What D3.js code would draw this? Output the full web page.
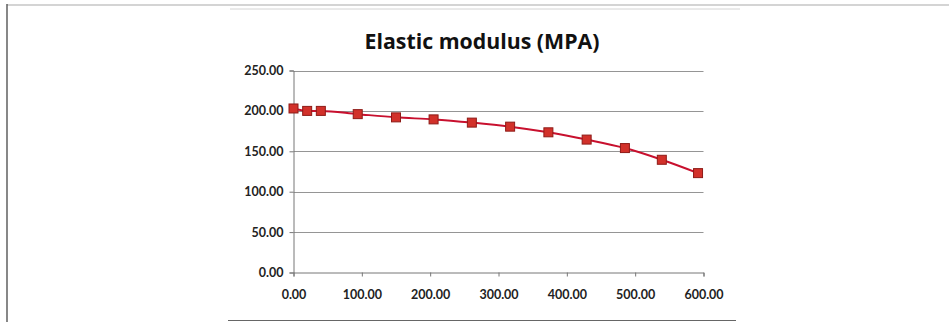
<!DOCTYPE html>
<html><head><meta charset="utf-8">
<script src="https://cdn.jsdelivr.net/npm/d3@7/dist/d3.min.js"></script>
<style>
html,body{margin:0;padding:0;background:#fff;}
svg{display:block;}
</style></head>
<body>
<svg id="c" width="949" height="322"></svg>
<script>
const title = "Elastic modulus (MPA)";
const temperature = [0, 20, 40, 94, 150, 205, 261, 317, 373, 429, 485, 539, 592];
const modulus = [203, 200, 200, 196, 192, 189.5, 185.5, 180.5, 173.5, 164.5, 154, 139.5, 123];
const xTicks = [0, 100, 200, 300, 400, 500, 600];
const yTicks = [0, 50, 100, 150, 200, 250];

const svg = d3.select("#c");
const font = "Lato, 'Open Sans', sans-serif";

// frame remnants
svg.append("line").attr("x1",7).attr("x2",949).attr("y1",5).attr("y2",5).attr("stroke","#aaa").attr("stroke-width",1.2);
svg.append("line").attr("x1",230).attr("x2",740).attr("y1",9).attr("y2",9).attr("stroke","#d4d4d4").attr("stroke-width",1);
svg.append("line").attr("x1",7).attr("x2",7).attr("y1",4).attr("y2",322).attr("stroke","#555").attr("stroke-width",1.4);
svg.append("line").attr("x1",228).attr("x2",736).attr("y1",320.5).attr("y2",320.5).attr("stroke","#666").attr("stroke-width",1);

const x = d3.scaleLinear().domain([0,600]).range([293.5,703.5]);
const y = d3.scaleLinear().domain([0,250]).range([272.5,70.5]);

// title
svg.append("text").attr("x",482).attr("y",49).attr("text-anchor","middle")
  .attr("font-family","'Open Sans', Lato, sans-serif").attr("font-weight","bold").attr("font-size",21)
  .attr("textLength",235).attr("lengthAdjust","spacingAndGlyphs").attr("fill","#111")
  .text(title);

// gridlines
svg.append("g").selectAll("line").data(yTicks.filter(d=>d>0)).join("line")
  .attr("x1",x(0)).attr("x2",x(600)).attr("y1",d=>Math.round(y(d))+0.5).attr("y2",d=>Math.round(y(d))+0.5)
  .attr("stroke","#959595").attr("stroke-width",1);

// y axis
const yAxis = d3.axisLeft(y).tickValues(yTicks).tickFormat(d3.format(".2f")).tickSize(4).tickPadding(6);
const gy = svg.append("g").attr("transform",`translate(${x(0)},0)`).call(yAxis);
gy.select(".domain").attr("stroke","#777");
gy.selectAll(".tick line").attr("stroke","#777");
gy.selectAll("text").attr("font-family",font).attr("font-size",12.5).attr("fill","#222").attr("font-weight","bold");

// x axis
const xAxis = d3.axisBottom(x).tickValues(xTicks).tickFormat(d3.format(".2f")).tickSize(4).tickPadding(14);
const gx = svg.append("g").attr("transform",`translate(0,${y(0)})`).call(xAxis);
gx.select(".domain").attr("stroke","#777");
gx.selectAll(".tick line").attr("stroke","#777");
gx.selectAll("text").attr("font-family",font).attr("font-size",12.5).attr("fill","#222").attr("font-weight","bold");

// line
const data = temperature.map((t,i)=>({t, v:modulus[i]}));
svg.append("path").datum(data)
  .attr("d", d3.line().x(d=>x(d.t)).y(d=>y(d.v)).curve(d3.curveMonotoneX))
  .attr("fill","none").attr("stroke","#c8102e").attr("stroke-width",2);

// markers
const s = 9;
svg.append("g").selectAll("rect").data(data).join("rect")
  .attr("x",d=>x(d.t)-s/2).attr("y",d=>y(d.v)-s/2).attr("width",s).attr("height",s)
  .attr("fill","#d2312a").attr("stroke","#8e1b17").attr("stroke-width",1);
</script>
</body></html>
